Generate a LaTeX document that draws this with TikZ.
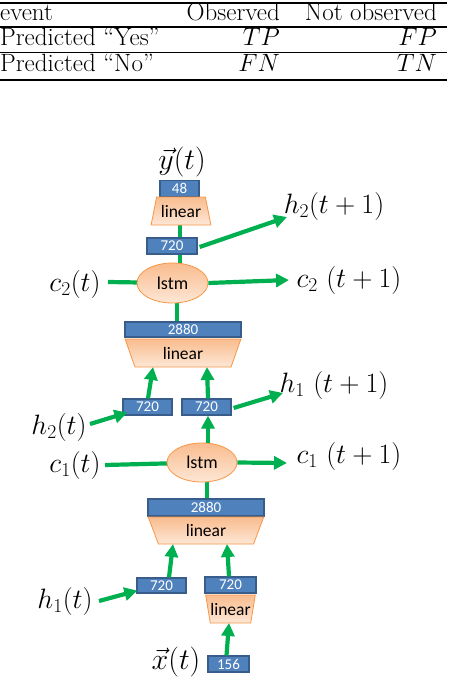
\RequirePackage{fix-cm}
\documentclass[tikz,border=0pt]{standalone}
\usepackage{fontspec}
\newfontfamily\carl{Carlito}
\usetikzlibrary{shapes.geometric,arrows.meta,backgrounds}
\definecolor{gr}{HTML}{00B050}
\definecolor{bfill}{HTML}{4F81BD}
\definecolor{bdraw}{HTML}{385D8A}
\definecolor{ofillA}{HTML}{F9BC8E}
\definecolor{ofillB}{HTML}{FDE7D6}
\definecolor{odraw}{HTML}{F79646}
\begin{document}
\begin{tikzpicture}[x=1pt,y=-1pt,
  tab/.style={inner sep=0pt, font=\fontsize{25}{30}\selectfont},
  box/.style={draw=bdraw, fill=bfill, line width=1.2pt, inner sep=0pt, text=white,
    font=\carl\fontsize{15}{15}\selectfont},
  lin/.style={trapezium, trapezium stretches=true, draw=odraw, line width=0.8pt,
    top color=ofillA, bottom color=ofillB, inner sep=0pt,
    font=\carl\fontsize{17.5}{18}\selectfont},
  lstm/.style={ellipse, draw=odraw, line width=0.8pt, top color=ofillA, bottom color=ofillB,
    inner sep=0pt, font=\carl\fontsize{18}{18}\selectfont},
  lab/.style={inner sep=0pt, font=\fontsize{28}{32}\selectfont},
  veclab/.style={inner sep=0pt, font=\fontsize{30}{34}\selectfont},
  gline/.style={draw=gr, line width=4.2pt},
  garr/.style={gline, -{Triangle[length=13pt,width=13pt]}}]
\useasboundingbox (0,0) rectangle (452,678);

% ---------- table ----------
\draw[line width=2.2pt] (0,2.8) -- (447,2.8);
\draw[line width=1.6pt] (0,26.7) -- (447,26.7);
\draw[line width=1.3pt] (0,52.7) -- (447,52.7);
\draw[line width=2.2pt] (0,80) -- (447,80);
\node[tab, anchor=base west] (t11) at (0,20) {event};
\node[tab, anchor=base east] (t12) at (280,20) {Observed};
\node[tab, anchor=base east] (t13) at (437,20) {Not observed};
\node[tab, anchor=base west] (t21) at (0,45) {Predicted “Yes”};
\node[tab, anchor=base east] (t22) at (280,45) {$TP$};
\node[tab, anchor=base east] (t23) at (437,45) {$FP$};
\node[tab, anchor=base west] (t31) at (0,71.7) {Predicted “No”};
\node[tab, anchor=base east] (t32) at (280,71.7) {$FN$};
\node[tab, anchor=base east] (t33) at (437,71.7) {$TN$};

% ---------- diagram nodes ----------
\node[veclab] (ylab) at (182,161.5) {$\vec{y}(t)$};
\node[box, minimum width=39pt, minimum height=16pt] (b48) at (179.5,188.7) {48};
\node[lin, minimum width=60pt, minimum height=28pt,
  trapezium left angle=69.4, trapezium right angle=69.4] (lin1) at (181,211) {linear};
\node[box, minimum width=50pt, minimum height=16pt] (b720t) at (172,246) {720};
\node[lstm, minimum width=71pt, minimum height=40pt] (lstm2) at (172.5,283) {lstm};
\node[box, minimum width=116pt, minimum height=15pt] (b2880a) at (183,329.5) {2880};
\node[lin, shape border rotate=180, minimum width=116pt, minimum height=28pt,
  trapezium left angle=71.3, trapezium right angle=71.3] (lin2) at (183,353) {linear};
\node[box, minimum width=49pt, minimum height=16pt] (b720L) at (147.5,407) {720};
\node[box, minimum width=49pt, minimum height=16pt] (b720R) at (206.5,407) {720};
\node[lstm, minimum width=70pt, minimum height=39pt] (lstm1) at (202,462.5) {lstm};
\node[box, minimum width=116pt, minimum height=17pt] (b2880b) at (206,507.5) {2880};
\node[lin, shape border rotate=180, minimum width=116pt, minimum height=27pt,
  trapezium left angle=70.6, trapezium right angle=70.6] (lin3) at (206,530.5) {linear};
\node[box, minimum width=49pt, minimum height=15pt] (b720c) at (161.5,585.5) {720};
\node[box, minimum width=51pt, minimum height=16pt] (b720d) at (230.5,585) {720};
\node[lin, shape border rotate=180, minimum width=49pt, minimum height=28pt,
  trapezium left angle=69.4, trapezium right angle=69.4] (lin4) at (230.5,609) {linear};
\node[box, minimum width=41pt, minimum height=16pt] (b156) at (228.5,664) {156};
\node[veclab] (xlab) at (176,662) {$\vec{x}(t)$};

% labels
\node[lab] (h2p1) at (334,206.5) {$h_2(t+1)$};
\node[lab] (c2) at (75,284) {$c_2(t)$};
\node[lab] (c2p1) at (349,280) {$c_2\ (t+1)$};
\node[lab] (h2t) at (59,427) {$h_2(t)$};
\node[lab] (h1p1) at (334,385) {$h_1\ (t+1)$};
\node[lab] (c1) at (75,465) {$c_1(t)$};
\node[lab] (c1p1) at (349,456.5) {$c_1\ (t+1)$};
\node[lab] (h1t) at (65,601.5) {$h_1(t)$};

\coordinate (h2p1a) at (287,217);
\coordinate (c2p1a) at (289,280);
\coordinate (h1p1a) at (283,393);
\coordinate (c1p1a) at (287,463);
\coordinate (c2s) at (108,282);
\coordinate (c1s) at (105,465);
\coordinate (h2ts) at (90,424);
\coordinate (h1ts) at (99,601);

% ---------- connectors behind nodes ----------
\begin{scope}[on background layer]
\draw[gline] ([xshift=-1pt]lin1.center) -- ([xshift=7.5pt]lstm2.center);
\draw[gline] ([xshift=4.5pt]lstm2.center) -- ([xshift=-6pt]b2880a.center);
\draw[gline] (c2s) -- (lstm2.center);
\draw[gline] (c1s) -- (lstm1.center);
\draw[gline] ([xshift=5pt]lstm1.center) -- ([xshift=1pt]b2880b.center);
\end{scope}

% ---------- arrows ----------
\draw[garr] ([xshift=2pt,yshift=-1pt]b720t.east) -- (h2p1a);
\draw[garr] (lstm2.east) -- (c2p1a);
\draw[garr] ([xshift=0.5pt]b720L.north) -- ([xshift=-30pt,yshift=-14pt]lin2.center);
\draw[garr] ([xshift=1.5pt]b720R.north) -- ([xshift=24pt,yshift=-14pt]lin2.center);
\draw[garr] (h2ts) -- ([xshift=5pt,yshift=3pt]b720L.south west);
\draw[garr] ([xshift=2pt,yshift=-1pt]b720R.east) -- (h1p1a);
\draw[garr] ([xshift=6pt]lstm1.north) -- ([xshift=1.5pt]b720R.south);
\draw[garr] (lstm1.east) -- (c1p1a);
\draw[garr] ([xshift=7.5pt]b720c.north) -- ([xshift=-33pt,yshift=-13.5pt]lin3.center);
\draw[garr] ([xshift=-1.5pt]b720d.north) -- ([xshift=21pt,yshift=-13.5pt]lin3.center);
\draw[garr] (h1ts) -- ([xshift=1pt,yshift=3pt]b720c.south west);
\draw[garr] ([xshift=-2pt]b156.north) -- ([xshift=-1.5pt,yshift=-14pt]lin4.center);
\end{tikzpicture}
\end{document}
